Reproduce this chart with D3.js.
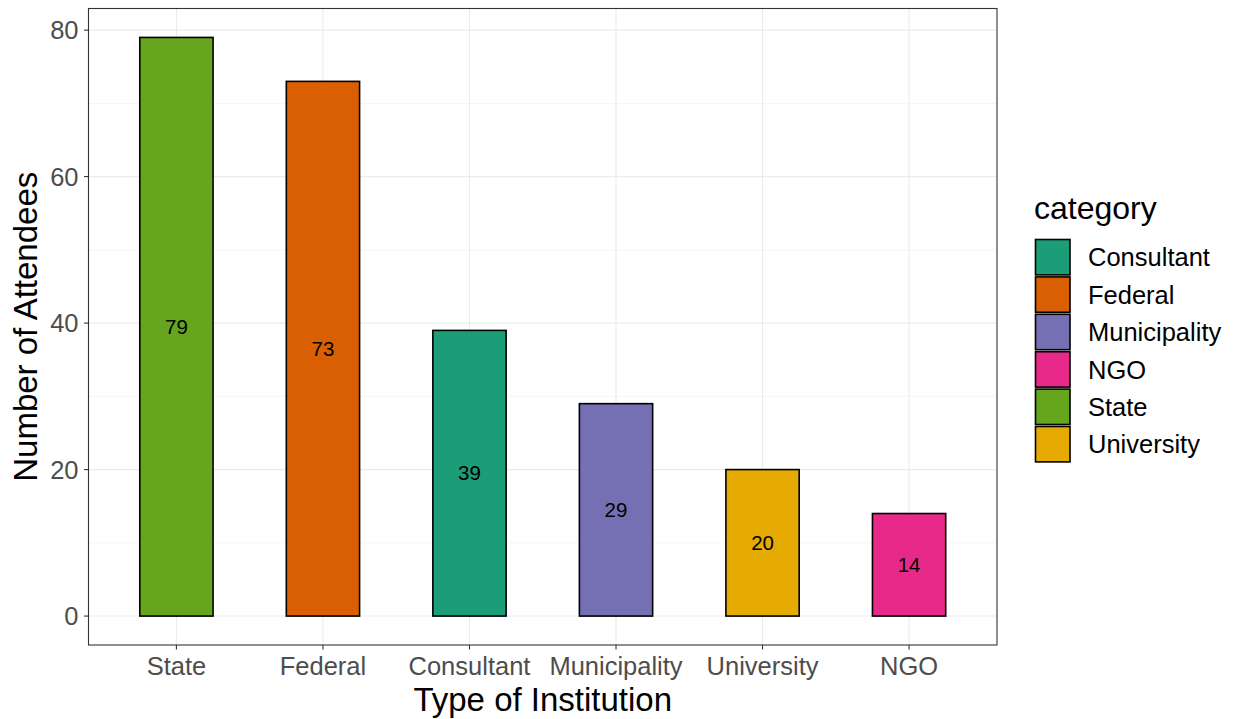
<!DOCTYPE html>
<html><head><meta charset="utf-8">
<script src="https://cdn.jsdelivr.net/npm/d3@7/dist/d3.min.js"></script>
<style>body{margin:0;background:#fff;} svg{display:block;font-family:Arial,"Liberation Sans",sans-serif;}</style>
</head><body>
<svg id="c" width="1238" height="719"></svg>
<script>
const categories = ["State","Federal","Consultant","Municipality","University","NGO"];
const values = [79,73,39,29,20,14];
const legendCats = ["Consultant","Federal","Municipality","NGO","State","University"];
const legendColors = ["#1B9E77","#D95F02","#7570B3","#E7298A","#66A61E","#E6AB02"];
const yTicks = [0,20,40,60,80];
const yMinor = [10,30,50,70];

const svg = d3.select("#c");
const L = 88.5, R = 997, T = 8.5, B = 645;
const color = d3.scaleOrdinal().domain(legendCats).range(legendColors);
const xi = d3.scaleLinear().domain([-0.6, categories.length-1+0.6]).range([L,R]);
const cx = c => xi(categories.indexOf(c));
const step = xi(1)-xi(0);
const y = d3.scaleLinear().domain([0-79*0.05, 79*1.05]).range([B,T]);

svg.append("rect").attr("x",L).attr("y",T).attr("width",R-L).attr("height",B-T).attr("fill","#fff");
const g = svg.append("g");
yMinor.forEach(v=>g.append("line").attr("x1",L).attr("x2",R).attr("y1",y(v)).attr("y2",y(v)).attr("stroke","#EBEBEB").attr("stroke-width",0.55));
yTicks.forEach(v=>g.append("line").attr("x1",L).attr("x2",R).attr("y1",y(v)).attr("y2",y(v)).attr("stroke","#EBEBEB").attr("stroke-width",1.1));
categories.forEach(c=>g.append("line").attr("x1",cx(c)).attr("x2",cx(c)).attr("y1",T).attr("y2",B).attr("stroke","#EBEBEB").attr("stroke-width",1.1));

const bw = step*0.5;
svg.selectAll("rect.bar").data(categories).enter().append("rect").attr("class","bar")
  .attr("x",d=>cx(d)-bw/2).attr("width",bw)
  .attr("y",(d,i)=>y(values[i])).attr("height",(d,i)=>y(0)-y(values[i]))
  .attr("fill",d=>color(d)).attr("stroke","#000").attr("stroke-width",1.6);
svg.selectAll("text.lab").data(categories).enter().append("text").attr("class","lab")
  .attr("x",d=>cx(d)).attr("y",(d,i)=>y(values[i]/2)).attr("dy","0.35em")
  .attr("text-anchor","middle").attr("font-size",20.5).attr("fill","#000").text((d,i)=>values[i]);

svg.append("rect").attr("x",L).attr("y",T).attr("width",R-L).attr("height",B-T).attr("fill","none").attr("stroke","#333").attr("stroke-width",1.1);

// y axis
yTicks.forEach(v=>{
  svg.append("line").attr("x1",L-4.5).attr("x2",L).attr("y1",y(v)).attr("y2",y(v)).attr("stroke","#333").attr("stroke-width",1.1);
  svg.append("text").attr("x",L-10).attr("y",y(v)).attr("dy","0.36em").attr("text-anchor","end").attr("font-size",25.5).attr("fill","#4D4D4D").text(v);
});
categories.forEach(c=>{
  svg.append("line").attr("x1",cx(c)).attr("x2",cx(c)).attr("y1",B).attr("y2",B+4.5).attr("stroke","#333").attr("stroke-width",1.1);
  svg.append("text").attr("x",cx(c)).attr("y",B+30).attr("text-anchor","middle").attr("font-size",25.5).attr("fill","#4D4D4D").text(c);
});
svg.append("text").attr("x",(L+R)/2).attr("y",711).attr("text-anchor","middle").attr("font-size",33).attr("fill","#000").text("Type of Institution");
svg.append("text").attr("transform",`translate(36.5,${(T+B)/2}) rotate(-90)`).attr("text-anchor","middle").attr("font-size",33).attr("fill","#000").text("Number of Attendees");

// legend
svg.append("text").attr("x",1034).attr("y",219).attr("font-size",32).attr("fill","#000").text("category");
const ky0 = 239.5, kh = 37.4;
legendCats.forEach((c,i)=>{
  svg.append("rect").attr("x",1035.5).attr("y",ky0+i*kh).attr("width",34.5).attr("height",kh-2).attr("fill",legendColors[i]).attr("stroke","#000").attr("stroke-width",1.6);
  svg.append("text").attr("x",1088).attr("y",ky0+i*kh+(kh-2)/2).attr("dy","0.36em").attr("font-size",25.5).attr("fill","#000").text(c);
});
</script>
</body></html>
